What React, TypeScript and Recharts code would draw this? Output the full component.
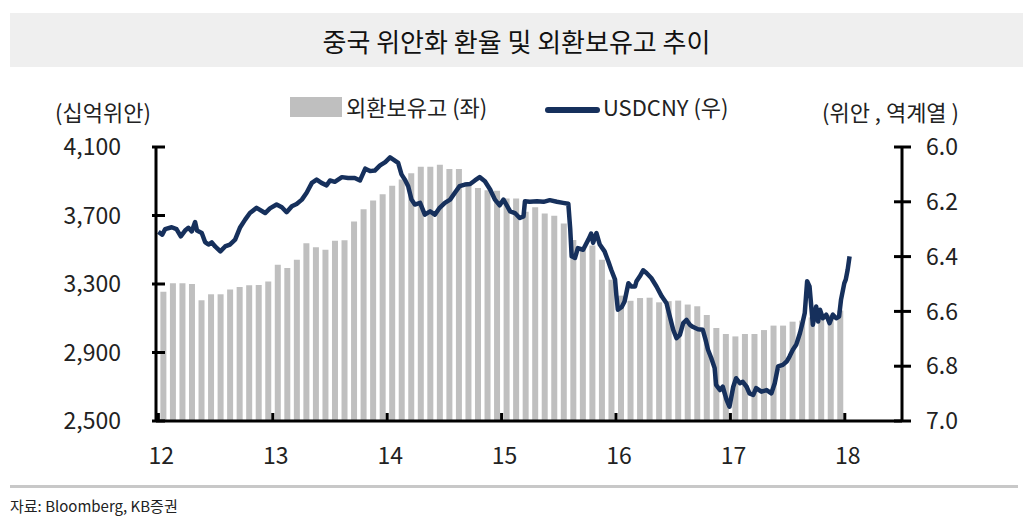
import { Bar, ComposedChart, Line, XAxis, YAxis } from "recharts";

// 외환보유고, 2012-01 ~ 2017-12 (monthly)
const reserves = [
    3255, 3305, 3305, 3300, 3205, 3240, 3240, 3268, 3283, 3292, 3294, 3314,
    3412, 3394, 3442, 3538, 3514, 3500, 3553, 3555, 3665, 3737, 3787, 3824,
    3873, 3910, 3946, 3984, 3984, 3996, 3971, 3971, 3888, 3861, 3848, 3845,
    3800, 3799, 3722, 3748, 3712, 3698, 3653, 3557, 3514, 3525, 3442, 3325,
    3232, 3202, 3218, 3220, 3193, 3200, 3203, 3180, 3170, 3119, 3043, 3008,
    2994, 3008, 3008, 3031, 3057, 3057, 3080, 3086, 3105, 3110, 3120, 3145,
];

// USDCNY, time in months since 2012-01
const usdcnyT = [
    0, 0.4, 0.7, 1.4, 1.9, 2.35, 2.8, 3.15, 3.5, 3.85, 4.05, 4.55, 4.9, 5.25, 5.6, 5.95,
    6.5, 7, 7.5, 8.05, 8.55, 9.1, 9.6, 10.3, 11.2, 11.7, 12.4, 12.95, 13.45, 14, 14.5,
    15.05, 15.55, 16.1, 16.6, 17.1, 17.65, 18, 18.5, 19.25, 19.9, 20.6, 21.15, 21.7,
    22.2, 22.7, 23.25, 23.8, 24.3, 24.65, 25.15, 25.5, 25.85, 26.2, 26.55, 26.9, 27.45,
    27.95, 28.5, 29, 29.5, 30.05, 30.6, 31.1, 31.6, 32.15, 32.7, 33.2, 33.7, 34.25,
    34.8, 35.3, 35.8, 36.2, 36.5, 36.9, 37.4, 37.9, 38.3, 38.45, 38.95, 39.7, 40.4,
    41.05, 41.8, 42.45, 43, 43.2, 43.35, 43.7, 44, 44.55, 45.1, 45.4, 45.6, 45.95,
    46.3, 46.8, 47.2, 47.5, 47.9, 48.05, 48.2, 48.6, 48.9, 49.3, 49.6, 50, 50.15,
    50.5, 50.85, 51.2, 51.7, 52.25, 52.8, 53.3, 53.6, 54, 54.35, 54.7, 55.05, 55.4,
    55.75, 56.1, 56.6, 57.1, 57.4, 57.65, 58, 58.35, 58.5, 58.9, 59.2, 59.6, 59.9,
    60.3, 60.6, 61, 61.3, 61.7, 62, 62.4, 62.7, 63.25, 63.8, 64.3, 64.65, 65, 65.5,
    65.9, 66.2, 66.55, 66.9, 67.3, 67.6, 67.8, 68.05, 68.3, 68.65, 69, 69.2, 69.4,
    69.7, 70.05, 70.4, 70.75, 71.1, 71.4, 71.6, 71.95, 72.1, 72.3, 72.5,
];
const usdcny = [
    6.31, 6.32, 6.3, 6.293, 6.3, 6.326, 6.305, 6.295, 6.308, 6.274, 6.305, 6.314, 6.347, 6.356, 6.348, 6.363,
    6.381, 6.363, 6.356, 6.338, 6.295, 6.265, 6.241, 6.222, 6.241, 6.224, 6.21, 6.22, 6.238, 6.216, 6.208,
    6.192, 6.167, 6.131, 6.119, 6.131, 6.14, 6.122, 6.127, 6.11, 6.113, 6.113, 6.122, 6.079,
    6.088, 6.086, 6.067, 6.055, 6.038, 6.046, 6.058, 6.1, 6.119, 6.143, 6.192, 6.21, 6.204,
    6.247, 6.235, 6.247, 6.222, 6.204, 6.192, 6.167, 6.143, 6.137, 6.135, 6.122, 6.11, 6.125,
    6.155, 6.192, 6.213, 6.192, 6.21, 6.235, 6.241, 6.259, 6.253, 6.198, 6.2, 6.198, 6.2,
    6.194, 6.2, 6.204, 6.207, 6.3, 6.399, 6.405, 6.369, 6.375, 6.338, 6.316, 6.35, 6.314,
    6.356, 6.381, 6.418, 6.448, 6.484, 6.545, 6.594, 6.584, 6.564, 6.497, 6.509, 6.509, 6.49,
    6.472, 6.45, 6.46, 6.478, 6.509, 6.545, 6.57, 6.612, 6.667, 6.698, 6.686, 6.643, 6.631,
    6.649, 6.657, 6.665, 6.667, 6.704, 6.74, 6.771, 6.807, 6.868, 6.887, 6.875, 6.923, 6.948,
    6.875, 6.844, 6.862, 6.857, 6.875, 6.899, 6.905, 6.88, 6.893, 6.887, 6.899, 6.862, 6.801, 6.795,
    6.783, 6.765, 6.74, 6.722, 6.679, 6.637, 6.606, 6.49, 6.509, 6.649, 6.582, 6.637, 6.594,
    6.625, 6.612, 6.643, 6.612, 6.625, 6.619, 6.558, 6.497, 6.484, 6.448, 6.399,
];

const yearTicks = [0, 12, 24, 36, 48, 60, 72];
const yearLabels = ["12", "13", "14", "15", "16", "17", "18"];
const leftTicks = [2500, 2900, 3300, 3700, 4100];
const rightTicks = [6.0, 6.2, 6.4, 6.6, 6.8, 7.0];

const barData = reserves.map((v, i) => ({ t: i + 0.5, reserve: v }));
const lineData = usdcnyT.map((t, i) => ({ t, rate: usdcny[i] }));

const KR = "'Noto Sans CJK KR', 'Noto Sans', sans-serif";
const NAVY = "#16305c";
const GREY = "#bfbfbf";
const X_DOMAIN = [-0.25, 78];

const LeftTick = ({ x, y, payload }: any) => (
    <g>
        <line x1={x - 4} x2={x + 9} y1={y} y2={y} stroke="#000" strokeWidth={3} />
        <text x={x - 35} y={y} dy="0.36em" textAnchor="end" fontSize={23} fontFamily={KR} fill="#222">
            {payload.value.toLocaleString("en-US")}
        </text>
    </g>
);

const RightTick = ({ x, y, payload }: any) => (
    <g>
        <line x1={x - 8} x2={x + 9} y1={y} y2={y} stroke="#000" strokeWidth={3} />
        <text x={x + 24} y={y} dy="0.36em" textAnchor="start" fontSize={23} fontFamily={KR} fill="#222">
            {payload.value.toFixed(1)}
        </text>
    </g>
);

const BottomTick = ({ x, y, payload, index }: any) => (
    <g>
        <line x1={x} x2={x} y1={y} y2={y - 8} stroke="#000" strokeWidth={3} />
        <text x={x + 3} y={y + 43} textAnchor="middle" fontSize={23} fontFamily={KR} fill="#222">
            {yearLabels[index] ?? payload.value}
        </text>
    </g>
);

const Label = ({ left, top, size, children }: any) => (
    <div style={{ position: "absolute", left, top, fontSize: size, lineHeight: 1, fontFamily: KR, color: "#222", whiteSpace: "nowrap" }}>
        {children}
    </div>
);

const App = () => {
    return <div style={{ position: "absolute", left: 0, top: 0, width: 1023, height: 519, background: "#fff", overflow: "hidden" }}>
        <div style={{ position: "absolute", left: 10, top: 13, width: 1013, height: 54, background: "#efefef", display: "flex", alignItems: "center", justifyContent: "center", fontFamily: KR, fontSize: 26, color: "#111" }}>
            중국 위안화 환율 및 외환보유고 추이
        </div>

        <Label left={55} top={100} size={22}>(십억위안)</Label>
        <Label left={822} top={100} size={22}>(위안 , 역계열 )</Label>

        <div style={{ position: "absolute", left: 290, top: 97, width: 52, height: 20, background: GREY }} />
        <Label left={346} top={95} size={22}>외환보유고 (좌)</Label>
        <div style={{ position: "absolute", left: 545, top: 107, width: 55, height: 6, borderRadius: 3, background: NAVY }} />
        <Label left={603} top={95} size={22}>USDCNY (우)</Label>

        <div style={{ position: "absolute", left: 0, top: 0 }}>
            <ComposedChart width={1023} height={519} data={barData} margin={{ top: 147, right: 0, bottom: 58, left: 0 }}>
                <XAxis
                    xAxisId="bars"
                    dataKey="t"
                    type="number"
                    domain={X_DOMAIN}
                    allowDataOverflow
                    ticks={yearTicks}
                    interval={0}
                    height={40}
                    tickSize={0}
                    tickMargin={0}
                    tick={<BottomTick />}
                    tickLine={false}
                    axisLine={{ stroke: "#000", strokeWidth: 3 }}
                />
                <XAxis xAxisId="line" dataKey="t" type="number" domain={X_DOMAIN} allowDataOverflow hide />
                <YAxis
                    yAxisId="left"
                    orientation="left"
                    width={156}
                    domain={[2500, 4100]}
                    allowDataOverflow
                    ticks={leftTicks}
                    interval={0}
                    tickSize={0}
                    tickMargin={0}
                    tick={<LeftTick />}
                    tickLine={false}
                    axisLine={{ stroke: "#000", strokeWidth: 3 }}
                />
                <YAxis
                    yAxisId="right"
                    orientation="right"
                    width={121}
                    domain={[6.0, 7.0]}
                    reversed
                    allowDataOverflow
                    ticks={rightTicks}
                    interval={0}
                    tickSize={0}
                    tickMargin={0}
                    tick={<RightTick />}
                    tickLine={false}
                    axisLine={{ stroke: "#000", strokeWidth: 3 }}
                />
                <Bar xAxisId="bars" yAxisId="left" dataKey="reserve" fill={GREY} barSize={6} isAnimationActive={false} />
                <Line
                    xAxisId="line"
                    yAxisId="right"
                    data={lineData}
                    dataKey="rate"
                    type="linear"
                    stroke={NAVY}
                    strokeWidth={4.5}
                    strokeLinejoin="round"
                    dot={false}
                    activeDot={false}
                    isAnimationActive={false}
                />
            </ComposedChart>
        </div>

        <div style={{ position: "absolute", left: 10, top: 485, width: 1008, height: 3, background: "#c8c8c8" }} />
        <Label left={10} top={498} size={15}>자료: Bloomberg, KB증권</Label>
    </div>
}

export default App;
